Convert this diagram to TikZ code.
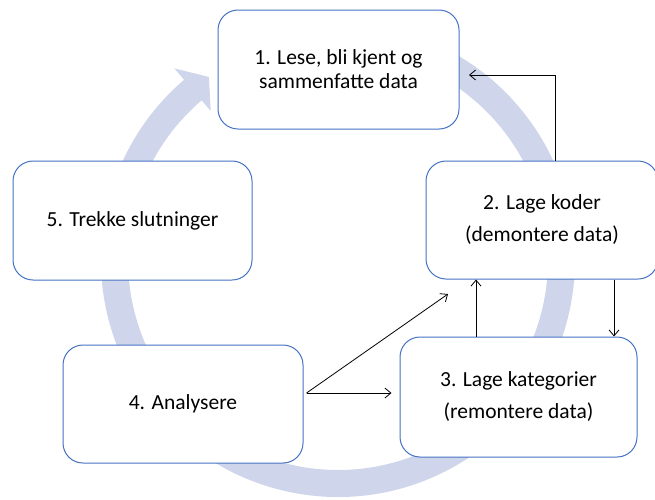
\documentclass[tikz,border=0pt]{standalone}
\usepackage{fontspec}
\setmainfont{Carlito}
\usetikzlibrary{arrows.meta,calc}
\definecolor{boxline}{HTML}{4472C4}
\definecolor{ringfill}{HTML}{CFD5EA}
\begin{document}
\begin{tikzpicture}[x=1pt,y=-1pt,
  stage/.style={draw=boxline, line width=1pt, fill=white, rounded corners=20pt,
    text=black, align=center, inner sep=0pt,
    font=\fontsize{21.5pt}{24pt}\selectfont},
  conn/.style={draw=black, line width=0.8pt, -{Straight Barb[length=6pt,width=10pt]}}]
\useasboundingbox (0,0) rectangle (655,499);
\clip (0,0) rectangle (655,499);

% circular cycle arrow behind the stages
\coordinate (c) at (338,260);
\fill[ringfill] ($(c)+(-80:237)$) arc[start angle=-80, end angle=229.5, radius=237]
  -- ($(c)+(229.5:252)$) -- ($(c)+(234.8:224)$) -- ($(c)+(229.5:196)$)
  -- ($(c)+(229.5:210)$) arc[start angle=229.5, end angle=-80, radius=210] -- cycle;

% stages
\node[stage, minimum width=241pt, minimum height=119pt] (b1) at (338.5,69.5)
  {1. Lese, bli kjent og\\sammenfatte data};
\node[stage, minimum width=232pt, minimum height=118pt] (b2) at (542,220)
  {2. Lage koder\\[8pt](demontere data)};
\node[stage, minimum width=237pt, minimum height=120pt] (b3) at (518.5,397)
  {3. Lage kategorier\\[8pt](remontere data)};
\node[stage, minimum width=240pt, minimum height=118pt] (b4) at (183,404)
  {4. Analysere};
\node[stage, minimum width=239pt, minimum height=119pt] (b5) at (132.5,220.5)
  {5. Trekke slutninger};

% connectors between stages
\coordinate (t1) at (469,75);
\coordinate (s4) at ([xshift=3pt,yshift=11pt]b4.east);
\coordinate (t3) at ([xshift=-8pt]b3.west);
\coordinate (t2) at (448,294);
\draw[conn] ([xshift=13pt]b2.north) |- (t1);
\draw[conn] ([xshift=72pt]b2.south) -- ([xshift=72pt]b2.south |- b3.north);
\draw[conn] ([xshift=-42.5pt]b3.north) -- ([xshift=-42.5pt]b3.north |- b2.south);
\draw[conn] (s4) -- (s4 -| t3);
\draw[conn] (s4) -- (t2);
\end{tikzpicture}
\end{document}
